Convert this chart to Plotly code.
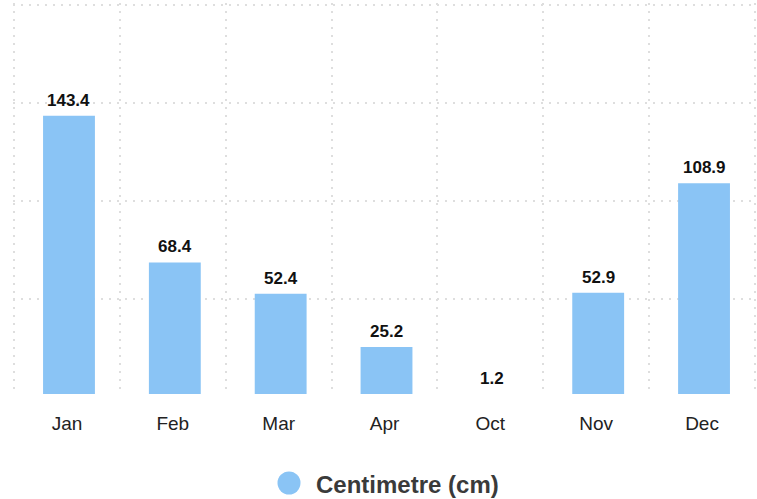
import plotly.graph_objects as go

months = ["Jan", "Feb", "Mar", "Apr", "Oct", "Nov", "Dec"]
values = [143.4, 68.4, 52.4, 25.2, 1.2, 52.9, 108.9]
series_name = "Centimetre (cm)"
grid_values = [50, 100, 150, 200]

bar_color = "#8ac4f5"
grid_color = "#dedede"
font_family = "Liberation Sans, Arial, sans-serif"

fig = go.Figure()
fig.add_trace(go.Bar(
    x=months, y=values, name=series_name,
    marker=dict(color=bar_color, line=dict(width=0)),
    width=0.49, offset=-0.226, showlegend=False, hoverinfo="x+y",
))

annotations = []
for m, v in zip(months, values):
    annotations.append(dict(
        x=m, y=v, xref="x", yref="y", text=f"<b>{v:.1f}</b>",
        showarrow=False, yanchor="bottom", xanchor="center", yshift=4, xshift=2,
        font=dict(family=font_family, size=17, color="#111111"),
    ))

# legend text
annotations.append(dict(
    x=(314 - 13) / 743, y=(394 - 484) / 391, xref="paper", yref="paper",
    text=f"<b>{series_name}</b>", showarrow=False, xanchor="left", yanchor="middle",
    font=dict(family=font_family, size=24, color="#3a3a3a"),
))

fig.update_layout(
    width=757, height=499,
    margin=dict(l=13, r=1, t=3, b=105),
    paper_bgcolor="white", plot_bgcolor="white",
    font=dict(family=font_family),
    annotations=annotations,
    shapes=[dict(
        type="circle", xref="paper", yref="paper",
        xsizemode="pixel", ysizemode="pixel",
        xanchor=(289 - 13) / 743, yanchor=(394 - 483) / 391,
        x0=-11.5, x1=11.5, y0=-11.5, y1=11.5,
        fillcolor=bar_color, line=dict(width=0),
    )],
)
fig.update_xaxes(
    type="category", tickson="boundaries", showgrid=True,
    range=[-0.51, 6.51],
    gridcolor=grid_color, gridwidth=2, griddash="2px,6px",
    showline=False, zeroline=False, ticks="",
    ticklabelstandoff=16,
    tickfont=dict(family=font_family, size=19, color="#222222"),
)
fig.update_yaxes(
    range=[1.2, 201], tickvals=grid_values, showticklabels=False,
    showgrid=True, gridcolor=grid_color, gridwidth=2, griddash="2px,6px",
    zeroline=False, showline=False,
)

fig.write_html(
    "out.html",
    config={"displayModeBar": False},
    post_script="document.body.style.margin='0';document.body.style.overflow='hidden';",
)
